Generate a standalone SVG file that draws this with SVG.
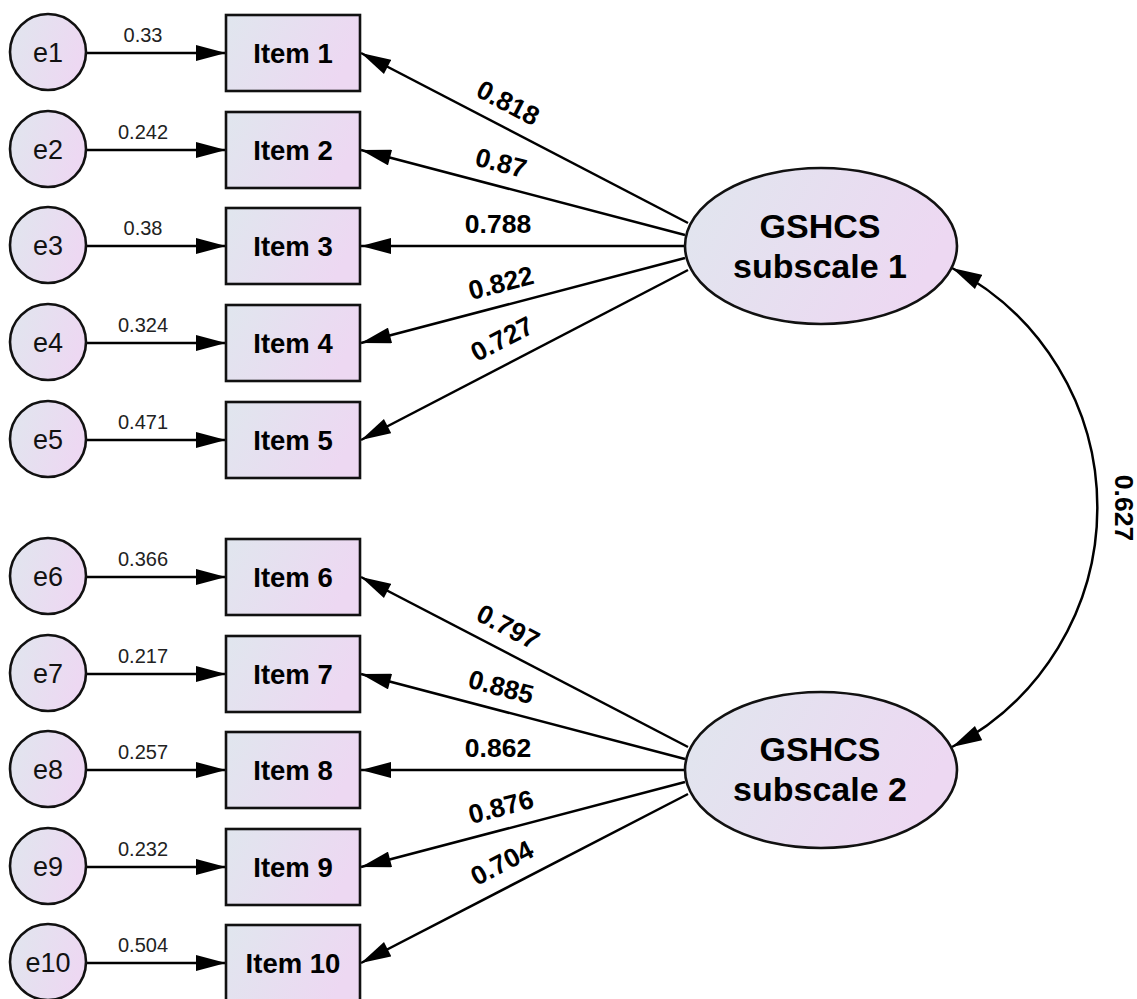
<svg xmlns="http://www.w3.org/2000/svg" width="1137" height="999" viewBox="0 0 1137 999">
<defs>
<linearGradient id="g" x1="0" y1="0" x2="1" y2="0.3">
<stop offset="0" stop-color="#e0e6ee"/>
<stop offset="1" stop-color="#edd8f2"/>
</linearGradient>
<marker id="ah" viewBox="0 0 30 16" refX="30" refY="8" markerWidth="31" markerHeight="16" markerUnits="userSpaceOnUse" orient="auto-start-reverse">
<path d="M0,0 L30,8 L0,16 z" fill="#000"/>
</marker>
<style>
.n{fill:url(#g);stroke:#111;stroke-width:2.6}
.c{stroke:#000;stroke-width:2.5;fill:none;marker-end:url(#ah)}
.el{font-family:"Liberation Sans",Arial,sans-serif;font-size:27px;fill:#111;text-anchor:middle}
.it{font-family:"Liberation Sans",Arial,sans-serif;font-size:27.5px;font-weight:bold;fill:#000;text-anchor:middle}
.lv{font-family:"Liberation Sans",Arial,sans-serif;font-size:34px;font-weight:bold;fill:#000;text-anchor:middle}
.ev{font-family:"Liberation Sans",Arial,sans-serif;font-size:20px;fill:#222;text-anchor:middle}
.ld{font-family:"Liberation Sans",Arial,sans-serif;font-size:26.5px;font-weight:bold;fill:#000;text-anchor:middle}
</style>
</defs>
<g id="connectors">
<line class="c" x1="86" y1="53" x2="226" y2="53"/>
<line class="c" x1="86" y1="150" x2="226" y2="150"/>
<line class="c" x1="86" y1="246" x2="226" y2="246"/>
<line class="c" x1="86" y1="343" x2="226" y2="343"/>
<line class="c" x1="86" y1="440" x2="226" y2="440"/>
<line class="c" x1="86" y1="577" x2="226" y2="577"/>
<line class="c" x1="86" y1="674" x2="226" y2="674"/>
<line class="c" x1="86" y1="770" x2="226" y2="770"/>
<line class="c" x1="86" y1="867" x2="226" y2="867"/>
<line class="c" x1="86" y1="963" x2="226" y2="963"/>
<line class="c" x1="688" y1="223" x2="361" y2="53"/>
<line class="c" x1="685" y1="235" x2="361" y2="150"/>
<line class="c" x1="685" y1="246" x2="361" y2="246"/>
<line class="c" x1="685" y1="258" x2="361" y2="343"/>
<line class="c" x1="688" y1="270" x2="361" y2="440"/>
<line class="c" x1="688" y1="747" x2="361" y2="577"/>
<line class="c" x1="685" y1="759" x2="361" y2="674"/>
<line class="c" x1="685" y1="770" x2="361" y2="770"/>
<line class="c" x1="685" y1="782" x2="361" y2="867"/>
<line class="c" x1="688" y1="794" x2="361" y2="963"/>
<path class="c" d="M952,268 A270,270 0 0 1 952,747" style="marker-start:url(#ah)"/>
<text class="ev" x="143" y="42">0.33</text>
<text class="ev" x="143" y="139">0.242</text>
<text class="ev" x="143" y="235">0.38</text>
<text class="ev" x="143" y="332">0.324</text>
<text class="ev" x="143" y="429">0.471</text>
<text class="ev" x="143" y="566">0.366</text>
<text class="ev" x="143" y="663">0.217</text>
<text class="ev" x="143" y="759">0.257</text>
<text class="ev" x="143" y="856">0.232</text>
<text class="ev" x="143" y="952">0.504</text>
<text class="ld" transform="translate(508,103) rotate(27.6)" y="9">0.818</text>
<text class="ld" transform="translate(501,163) rotate(14.7)" y="9">0.87</text>
<text class="ld" transform="translate(498,224)" y="9">0.788</text>
<text class="ld" transform="translate(501,283) rotate(-14.7)" y="9">0.822</text>
<text class="ld" transform="translate(502,339) rotate(-27.6)" y="9">0.727</text>
<text class="ld" transform="translate(508,627) rotate(27.6)" y="9">0.797</text>
<text class="ld" transform="translate(501,687) rotate(14.7)" y="9">0.885</text>
<text class="ld" transform="translate(498,748)" y="9">0.862</text>
<text class="ld" transform="translate(501,807) rotate(-14.7)" y="9">0.876</text>
<text class="ld" transform="translate(502,863) rotate(-27.6)" y="9">0.704</text>
<text class="ld" transform="translate(1124,508) rotate(90)" y="9">0.627</text>
</g>
<g id="e1"><circle class="n" cx="48" cy="52" r="38"/><text class="el" x="48" y="62">e1</text></g>
<g id="e2"><circle class="n" cx="48" cy="149" r="38"/><text class="el" x="48" y="159">e2</text></g>
<g id="e3"><circle class="n" cx="48" cy="245" r="38"/><text class="el" x="48" y="255">e3</text></g>
<g id="e4"><circle class="n" cx="48" cy="342" r="38"/><text class="el" x="48" y="352">e4</text></g>
<g id="e5"><circle class="n" cx="48" cy="439" r="38"/><text class="el" x="48" y="449">e5</text></g>
<g id="e6"><circle class="n" cx="48" cy="576" r="38"/><text class="el" x="48" y="586">e6</text></g>
<g id="e7"><circle class="n" cx="48" cy="673" r="38"/><text class="el" x="48" y="683">e7</text></g>
<g id="e8"><circle class="n" cx="48" cy="769" r="38"/><text class="el" x="48" y="779">e8</text></g>
<g id="e9"><circle class="n" cx="48" cy="866" r="38"/><text class="el" x="48" y="876">e9</text></g>
<g id="e10"><circle class="n" cx="48" cy="962" r="38"/><text class="el" x="48" y="972">e10</text></g>
<g id="item1"><rect class="n" x="226" y="15" width="134" height="76"/><text class="it" x="293" y="63">Item 1</text></g>
<g id="item2"><rect class="n" x="226" y="112" width="134" height="76"/><text class="it" x="293" y="160">Item 2</text></g>
<g id="item3"><rect class="n" x="226" y="208" width="134" height="76"/><text class="it" x="293" y="256">Item 3</text></g>
<g id="item4"><rect class="n" x="226" y="305" width="134" height="76"/><text class="it" x="293" y="353">Item 4</text></g>
<g id="item5"><rect class="n" x="226" y="402" width="134" height="76"/><text class="it" x="293" y="450">Item 5</text></g>
<g id="item6"><rect class="n" x="226" y="539" width="134" height="76"/><text class="it" x="293" y="587">Item 6</text></g>
<g id="item7"><rect class="n" x="226" y="636" width="134" height="76"/><text class="it" x="293" y="684">Item 7</text></g>
<g id="item8"><rect class="n" x="226" y="732" width="134" height="76"/><text class="it" x="293" y="780">Item 8</text></g>
<g id="item9"><rect class="n" x="226" y="829" width="134" height="76"/><text class="it" x="293" y="877">Item 9</text></g>
<g id="item10"><rect class="n" x="226" y="925" width="134" height="76"/><text class="it" x="293" y="973">Item 10</text></g>
<g id="subscale1"><ellipse class="n" cx="821" cy="246" rx="136" ry="78"/><text class="lv" x="820" y="238">GSHCS</text><text class="lv" x="820" y="278">subscale 1</text></g>
<g id="subscale2"><ellipse class="n" cx="821" cy="770" rx="136" ry="78"/><text class="lv" x="820" y="761">GSHCS</text><text class="lv" x="820" y="801">subscale 2</text></g>
</svg>
